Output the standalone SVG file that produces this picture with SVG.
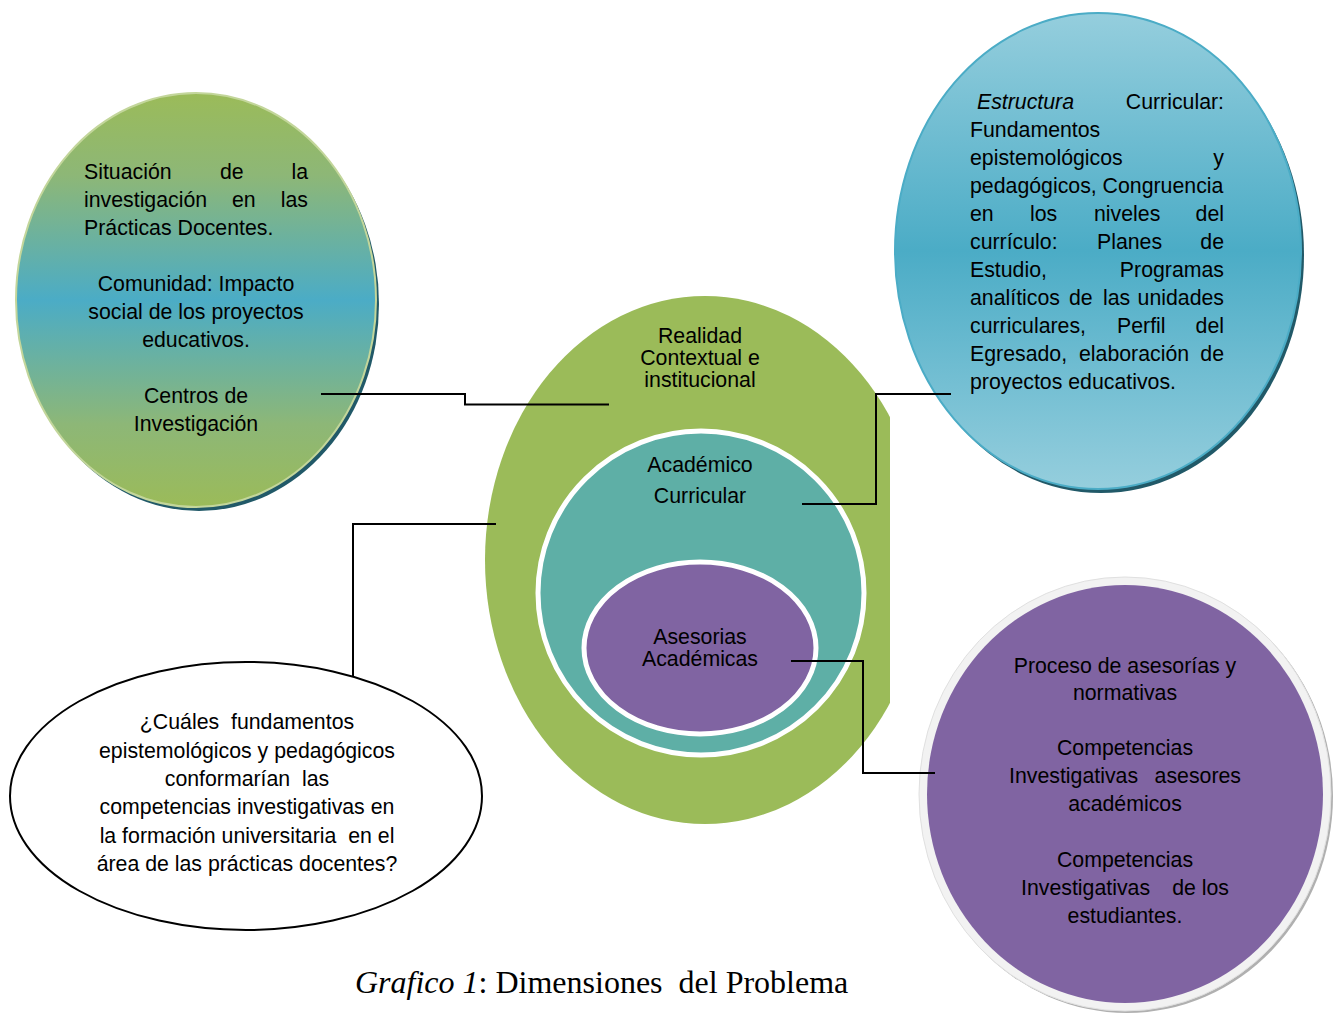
<svg xmlns="http://www.w3.org/2000/svg" width="1342" height="1013" viewBox="0 0 1342 1013">
<defs>
<style>
.t{font-family:"Liberation Sans",Arial,sans-serif;font-size:21.3px;fill:#000}
.c{text-anchor:middle}
.e{text-anchor:end}
.i{font-style:italic}
.ln{fill:none;stroke:#000;stroke-width:2}
.cap{font-family:"Liberation Serif","Times New Roman",serif;font-size:32px;fill:#000}
</style>
<linearGradient id="gLeft" x1="0" y1="0" x2="0" y2="1">
<stop offset="0" stop-color="#9BBB59"/>
<stop offset="0.2" stop-color="#8DB777"/>
<stop offset="0.5" stop-color="#4BACC6"/>
<stop offset="0.8" stop-color="#8DB777"/>
<stop offset="1" stop-color="#9BBB59"/>
</linearGradient>
<linearGradient id="gRight" x1="0" y1="0" x2="0" y2="1">
<stop offset="0" stop-color="#95CEDD"/>
<stop offset="0.5" stop-color="#4BACC6"/>
<stop offset="1" stop-color="#95CEDD"/>
</linearGradient>
<clipPath id="cutRight"><rect x="0" y="0" width="890" height="1013"/></clipPath>
</defs>
<rect width="1342" height="1013" fill="#fff"/>

<g id="node-situacion">
<ellipse cx="199" cy="304" rx="180" ry="207" fill="#215968"/>
<ellipse cx="196" cy="300" rx="180" ry="207" fill="url(#gLeft)" stroke="#C3D69B" stroke-width="2"/>
<text class="t" x="84" y="179">Situación</text>
<text class="t" x="220" y="179">de</text>
<text class="t e" x="308" y="179">la</text>
<text class="t" x="84" y="207">investigación</text>
<text class="t" x="232" y="207">en</text>
<text class="t e" x="308" y="207">las</text>
<text class="t" x="84" y="235">Prácticas Docentes.</text>
<text class="t c" x="196" y="291">Comunidad: Impacto</text>
<text class="t c" x="196" y="319">social de los proyectos</text>
<text class="t c" x="196" y="347">educativos.</text>
<text class="t c" x="196" y="403">Centros de</text>
<text class="t c" x="196" y="431">Investigación</text>
</g>

<g id="node-estructura">
<ellipse cx="1101" cy="255" rx="203" ry="238" fill="#215968"/>
<ellipse cx="1098" cy="251" rx="203" ry="238" fill="url(#gRight)" stroke="#4BACC6" stroke-width="2"/>
<text class="t i" x="977" y="109">Estructura</text>
<text class="t e" x="1224" y="109">Curricular:</text>
<text class="t" x="970" y="137">Fundamentos</text>
<text class="t" x="970" y="165">epistemológicos</text>
<text class="t e" x="1224" y="165">y</text>
<text class="t" x="970" y="193">pedagógicos, Congruencia</text>
<text class="t" x="970" y="221">en</text>
<text class="t" x="1030" y="221">los</text>
<text class="t" x="1094" y="221">niveles</text>
<text class="t e" x="1224" y="221">del</text>
<text class="t" x="970" y="249">currículo:</text>
<text class="t" x="1097" y="249">Planes</text>
<text class="t e" x="1224" y="249">de</text>
<text class="t" x="970" y="277">Estudio,</text>
<text class="t e" x="1224" y="277">Programas</text>
<text class="t" x="970" y="305">analíticos</text>
<text class="t" x="1069" y="305">de</text>
<text class="t" x="1103" y="305">las</text>
<text class="t e" x="1224" y="305">unidades</text>
<text class="t" x="970" y="333">curriculares,</text>
<text class="t" x="1117" y="333">Perfil</text>
<text class="t e" x="1224" y="333">del</text>
<text class="t" x="970" y="361">Egresado,</text>
<text class="t" x="1079" y="361">elaboración</text>
<text class="t e" x="1224" y="361">de</text>
<text class="t" x="970" y="389">proyectos educativos.</text>
</g>

<g id="node-realidad">
<ellipse cx="705" cy="560" rx="220" ry="264" fill="#9BBB59" clip-path="url(#cutRight)"/>
<text class="t c" x="700" y="343">Realidad</text>
<text class="t c" x="700" y="365">Contextual e</text>
<text class="t c" x="700" y="387">institucional</text>
</g>

<g id="node-academico">
<ellipse cx="701" cy="593" rx="163" ry="162" fill="#5EAFA6" stroke="#fff" stroke-width="5"/>
<text class="t c" x="700" y="472">Académico</text>
<text class="t c" x="700" y="503">Curricular</text>
</g>

<g id="node-asesorias">
<ellipse cx="700" cy="648" rx="116" ry="86" fill="#8064A2" stroke="#fff" stroke-width="5"/>
<text class="t c" x="700" y="644">Asesorias</text>
<text class="t c" x="700" y="666">Académicas</text>
</g>

<g id="node-pregunta">
<ellipse cx="246" cy="796" rx="236" ry="134" fill="#fff" stroke="#000" stroke-width="2"/>
<text class="t c" x="247" y="729" xml:space="preserve">¿Cuáles  fundamentos</text>
<text class="t c" x="247" y="758">epistemológicos y pedagógicos</text>
<text class="t c" x="247" y="786" xml:space="preserve">conformarían  las</text>
<text class="t c" x="247" y="814">competencias investigativas en</text>
<text class="t c" x="247" y="843" xml:space="preserve">la formación universitaria  en el</text>
<text class="t c" x="247" y="871">área de las prácticas docentes?</text>
</g>

<g id="node-competencias">
<ellipse cx="1127" cy="796" rx="206" ry="217" fill="#B0B0B0"/>
<ellipse cx="1125" cy="794" rx="206" ry="217" fill="#F2F2F2" stroke="#E0E0E0" stroke-width="1"/>
<ellipse cx="1125" cy="794" rx="198" ry="209" fill="#8064A2"/>
<text class="t c" x="1125" y="673">Proceso de asesorías y</text>
<text class="t c" x="1125" y="700">normativas</text>
<text class="t c" x="1125" y="755">Competencias</text>
<text class="t" x="1009" y="783">Investigativas</text>
<text class="t e" x="1241" y="783">asesores</text>
<text class="t c" x="1125" y="811">académicos</text>
<text class="t c" x="1125" y="867">Competencias</text>
<text class="t" x="1021" y="895">Investigativas</text>
<text class="t e" x="1229" y="895">de los</text>
<text class="t c" x="1125" y="923">estudiantes.</text>
</g>

<g id="connectors">
<polyline class="ln" points="321,394 465,394 465,404.5 609,404.5"/>
<polyline class="ln" points="496,524 353,524 353,677"/>
<polyline class="ln" points="802,504 876,504 876,394 951,394"/>
<polyline class="ln" points="791,661 863,661 863,773 935,773"/>
</g>

<text class="cap" x="355" y="993" xml:space="preserve"><tspan font-style="italic">Grafico 1</tspan>: Dimensiones  del Problema</text>
</svg>
